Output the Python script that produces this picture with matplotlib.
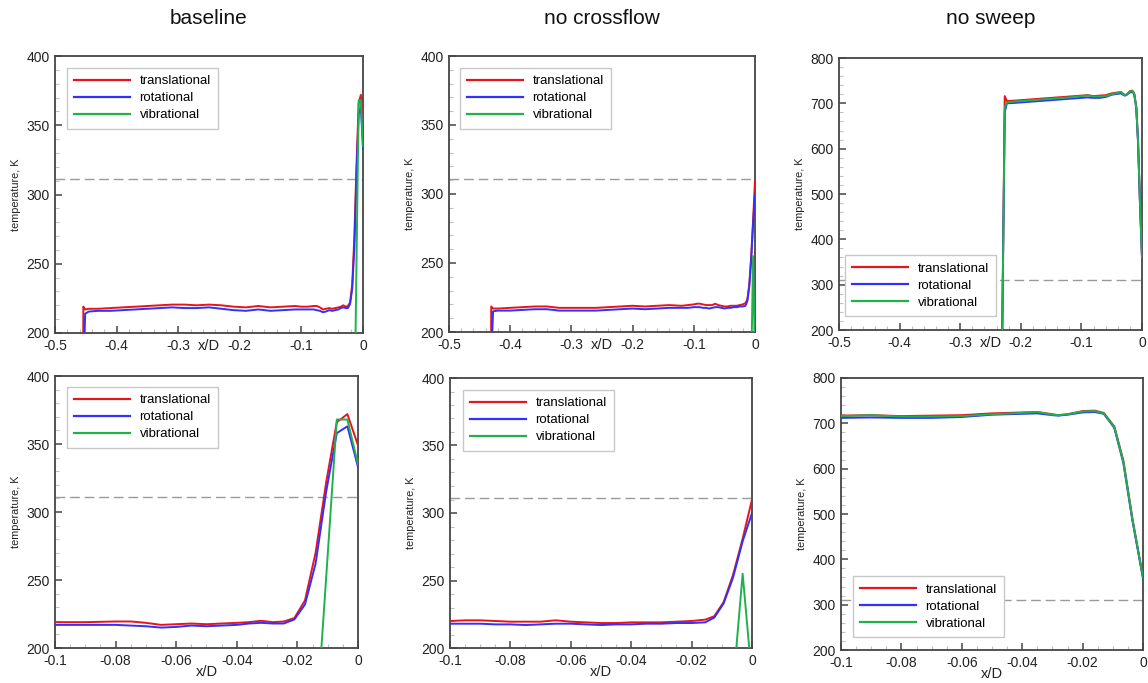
import matplotlib
matplotlib.use("Agg")
import matplotlib.pyplot as plt
from matplotlib.ticker import MultipleLocator

plt.rcParams["font.family"] = ["Liberation Sans", "DejaVu Sans"]

# temperature profiles along the stagnation line, x/D from the wall (x = 0)
baseline_x = [-0.5, -0.4545, -0.454, -0.451, -0.445,
              -0.43, -0.41, -0.39, -0.37, -0.35,
              -0.33, -0.31, -0.29, -0.27, -0.25,
              -0.23, -0.21, -0.19, -0.17, -0.15,
              -0.13, -0.11,
              -0.1, -0.09, -0.08, -0.075, -0.07,
              -0.065, -0.06, -0.055, -0.05, -0.045,
              -0.04, -0.036, -0.032, -0.028, -0.0245,
              -0.021, -0.0175, -0.014, -0.0105, -0.007,
              -0.0035, 0.0]
baseline_trans = [150, 150, 219, 217, 217.5,
                  217.5, 218, 218.5, 219, 219.5,
                  220, 220.5, 220.5, 220, 220.5,
                  220, 219, 218.5, 219.5, 218.5,
                  219, 219.5,
                  219, 219, 219.5, 219.5, 218.5,
                  217, 217.5, 218, 217.5, 218,
                  218.5, 219, 220, 219, 219.5,
                  222, 235, 270, 322, 366,
                  372, 349]
baseline_rot = [150, 150, 170, 214, 215.5,
                216, 216, 216.5, 217, 217.5,
                218, 218.5, 218, 218, 218.5,
                217.5, 216.5, 216, 217, 216,
                216.5, 217,
                217, 217, 217, 216.5, 216,
                215, 215.5, 216.5, 216, 216.5,
                217, 218, 218.5, 218, 218,
                221, 232, 262, 315, 358,
                363, 333]
baseline_vib_x = [-0.5, -0.014, -0.0105, -0.007, -0.0035, 0.0]
baseline_vib = [137, 137, 252, 368, 368, 335]

nocf_x = [-0.5, -0.4315, -0.431, -0.428, -0.42,
          -0.4, -0.38, -0.36, -0.34, -0.32,
          -0.3, -0.28, -0.26, -0.24, -0.22,
          -0.2, -0.18, -0.16, -0.14, -0.12,
          -0.11,
          -0.1, -0.095, -0.09, -0.085, -0.08,
          -0.075, -0.07, -0.065, -0.06, -0.055,
          -0.05, -0.045, -0.04, -0.035, -0.03,
          -0.025, -0.02, -0.0155, -0.0125, -0.0094,
          -0.0063, -0.0031, 0.0]
nocf_trans = [150, 150, 218.5, 217, 217,
              217.5, 218, 218.5, 218.5, 217.5,
              217.5, 217.5, 217.5, 218, 218.5,
              219, 218.5, 219, 219.5, 219,
              219.5,
              220, 220.5, 220.5, 220, 219.5,
              219.5, 219.5, 220.5, 219.5, 219,
              218.5, 218.5, 219, 219, 219,
              219.5, 220, 221, 223.5, 234,
              254, 281, 310]
nocf_rot = [150, 150, 180, 215, 215.5,
            215.5, 216, 216.5, 216.5, 215.5,
            215.5, 215.5, 215.5, 216, 216.5,
            217, 216.5, 217, 217.5, 217.5,
            217.5,
            218, 218, 218, 217.5, 217.5,
            217, 217.5, 218, 218, 217.5,
            217, 217.5, 217.5, 218, 218,
            218.5, 218.5, 219, 222.5, 233,
            252, 279, 300]
nocf_vib_x = [-0.5, -0.0063, -0.0031, 0.0]
nocf_vib = [171, 171, 255, 177]

nosweep_x = [-0.5, -0.231, -0.2265, -0.223, -0.21,
             -0.2, -0.18, -0.16, -0.14, -0.12,
             -0.1, -0.09, -0.08, -0.07, -0.06,
             -0.05, -0.04, -0.035, -0.03, -0.028,
             -0.025, -0.02, -0.016, -0.013, -0.0095,
             -0.0065, -0.0035, 0.0]
nosweep_trans = [150, 150, 716, 705, 706,
                 707, 709, 711, 713, 715,
                 717, 718, 716, 717, 718,
                 722, 724, 725, 720, 718,
                 720, 727, 728, 723, 693,
                 618, 490, 360]
nosweep_rot = [150, 150, 680, 700, 701,
               702, 704, 706, 708, 710,
               712, 713, 712, 712, 714,
               719, 721, 722, 718, 717,
               719, 724, 725, 721, 690,
               612, 485, 358]
nosweep_vib = [150, 150, 690, 702, 704,
               705, 707, 709, 711, 713,
               716, 718, 715, 715, 716,
               720, 723, 725, 719, 718,
               720, 726, 727, 722, 692,
               615, 488, 360]

case_titles = ["baseline", "no crossflow", "no sweep"]
wall_temp = 311
series_labels = ["translational", "rotational", "vibrational"]
series_colors = ["#e8141c", "#3030ff", "#1fb14c"]

cases = [
    (baseline_x, baseline_trans, baseline_rot, baseline_vib_x, baseline_vib),
    (nocf_x, nocf_trans, nocf_rot, nocf_vib_x, nocf_vib),
    (nosweep_x, nosweep_trans, nosweep_rot, nosweep_x, nosweep_vib),
]

W, H = 1148, 683
fig = plt.figure(figsize=(W / 100, H / 100), dpi=100)

# axes boxes in pixels: left, right, top, bottom
boxes = [
    [(55, 363, 56, 333), (449, 755, 56, 332), (839, 1142, 58, 330)],
    [(55, 358, 376, 648), (450, 752, 378, 648), (841, 1143, 378, 650)],
]
# legend corner offsets in pixels (from axes corner)
legend_loc = [
    [("upper left", 12, 12), ("upper left", 11, 12), ("lower left", 6, 14)],
    [("upper left", 12, 11), ("upper left", 13, 12), ("lower left", 12, 13)],
]
# distance in pixels from the axes bottom to the top of the "x/D" label
xlabel_drop = [6, 17]

spine_col = "#454545"

for row in range(2):
    for col in range(3):
        l, r, t, b = boxes[row][col]
        aw, ah = r - l, b - t
        ax = fig.add_axes([l / W, 1 - b / H, aw / W, ah / H])
        x, tr, rot, vx, vib = cases[col]

        ax.axhline(wall_temp, color="#9a9a9a", lw=1.0, dashes=(7, 3.5), zorder=1)
        ax.plot(x, tr, color=series_colors[0], lw=1.4, label=series_labels[0], zorder=3)
        ax.plot(x, rot, color=series_colors[1], lw=1.4, label=series_labels[1], zorder=3)
        ax.plot(vx, vib, color=series_colors[2], lw=1.4, label=series_labels[2], zorder=3)

        if row == 0:
            ax.set_xlim(-0.5, 0)
            ax.xaxis.set_minor_locator(MultipleLocator(0.02))
            ax.set_xticks([-0.5, -0.4, -0.3, -0.2, -0.1, 0])
            ax.set_xticklabels(["-0.5", "-0.4", "-0.3", "-0.2", "-0.1", "0"])
        else:
            ax.set_xlim(-0.1, 0)
            ax.xaxis.set_minor_locator(MultipleLocator(0.005))
            ax.set_xticks([-0.1, -0.08, -0.06, -0.04, -0.02, 0])
            ax.set_xticklabels(["-0.1", "-0.08", "-0.06", "-0.04", "-0.02", "0"])
        ax.set_xlabel("x/D", fontsize=10.5, color="#222222")
        ax.xaxis.set_label_coords(0.5, -xlabel_drop[row] / ah)

        if col < 2:
            ax.set_ylim(200, 400)
            ax.yaxis.set_major_locator(MultipleLocator(50))
            ax.yaxis.set_minor_locator(MultipleLocator(10))
        else:
            ax.set_ylim(200, 800)
            ax.yaxis.set_major_locator(MultipleLocator(100))
            ax.yaxis.set_minor_locator(MultipleLocator(20))
        ax.set_ylabel("temperature, K", fontsize=7.8, labelpad=4, color="#222222")

        for sp in ax.spines.values():
            sp.set_color(spine_col)
            sp.set_linewidth(1.3)
        ax.tick_params(which="major", direction="in", length=5, width=1.1,
                       color=spine_col, labelsize=10, labelcolor="#222222", pad=4)
        ax.tick_params(which="minor", direction="in", length=3, width=0.8,
                       color="#c0c0c0")

        loc, dx, dy = legend_loc[row][col]
        if loc == "upper left":
            anchor = (dx / aw, 1 - dy / ah)
        else:
            anchor = (dx / aw, dy / ah)
        leg = ax.legend(loc=loc, bbox_to_anchor=anchor, borderaxespad=0,
                        fontsize=9.5, handlelength=4.2, handletextpad=0.75,
                        labelspacing=0.36, borderpad=0.55, fancybox=False,
                        framealpha=1, edgecolor="#c8c8c8")
        leg.get_frame().set_linewidth(1.0)
        for line in leg.get_lines():
            line.set_linewidth(1.6)

# column titles
for col, title in enumerate(case_titles):
    l, r, t, b = boxes[0][col]
    fig.text((l + r) / 2 / W, 1 - 18 / H, title, fontsize=15,
             ha="center", va="center", color="#111111")

fig.savefig("out.png", dpi=100)
